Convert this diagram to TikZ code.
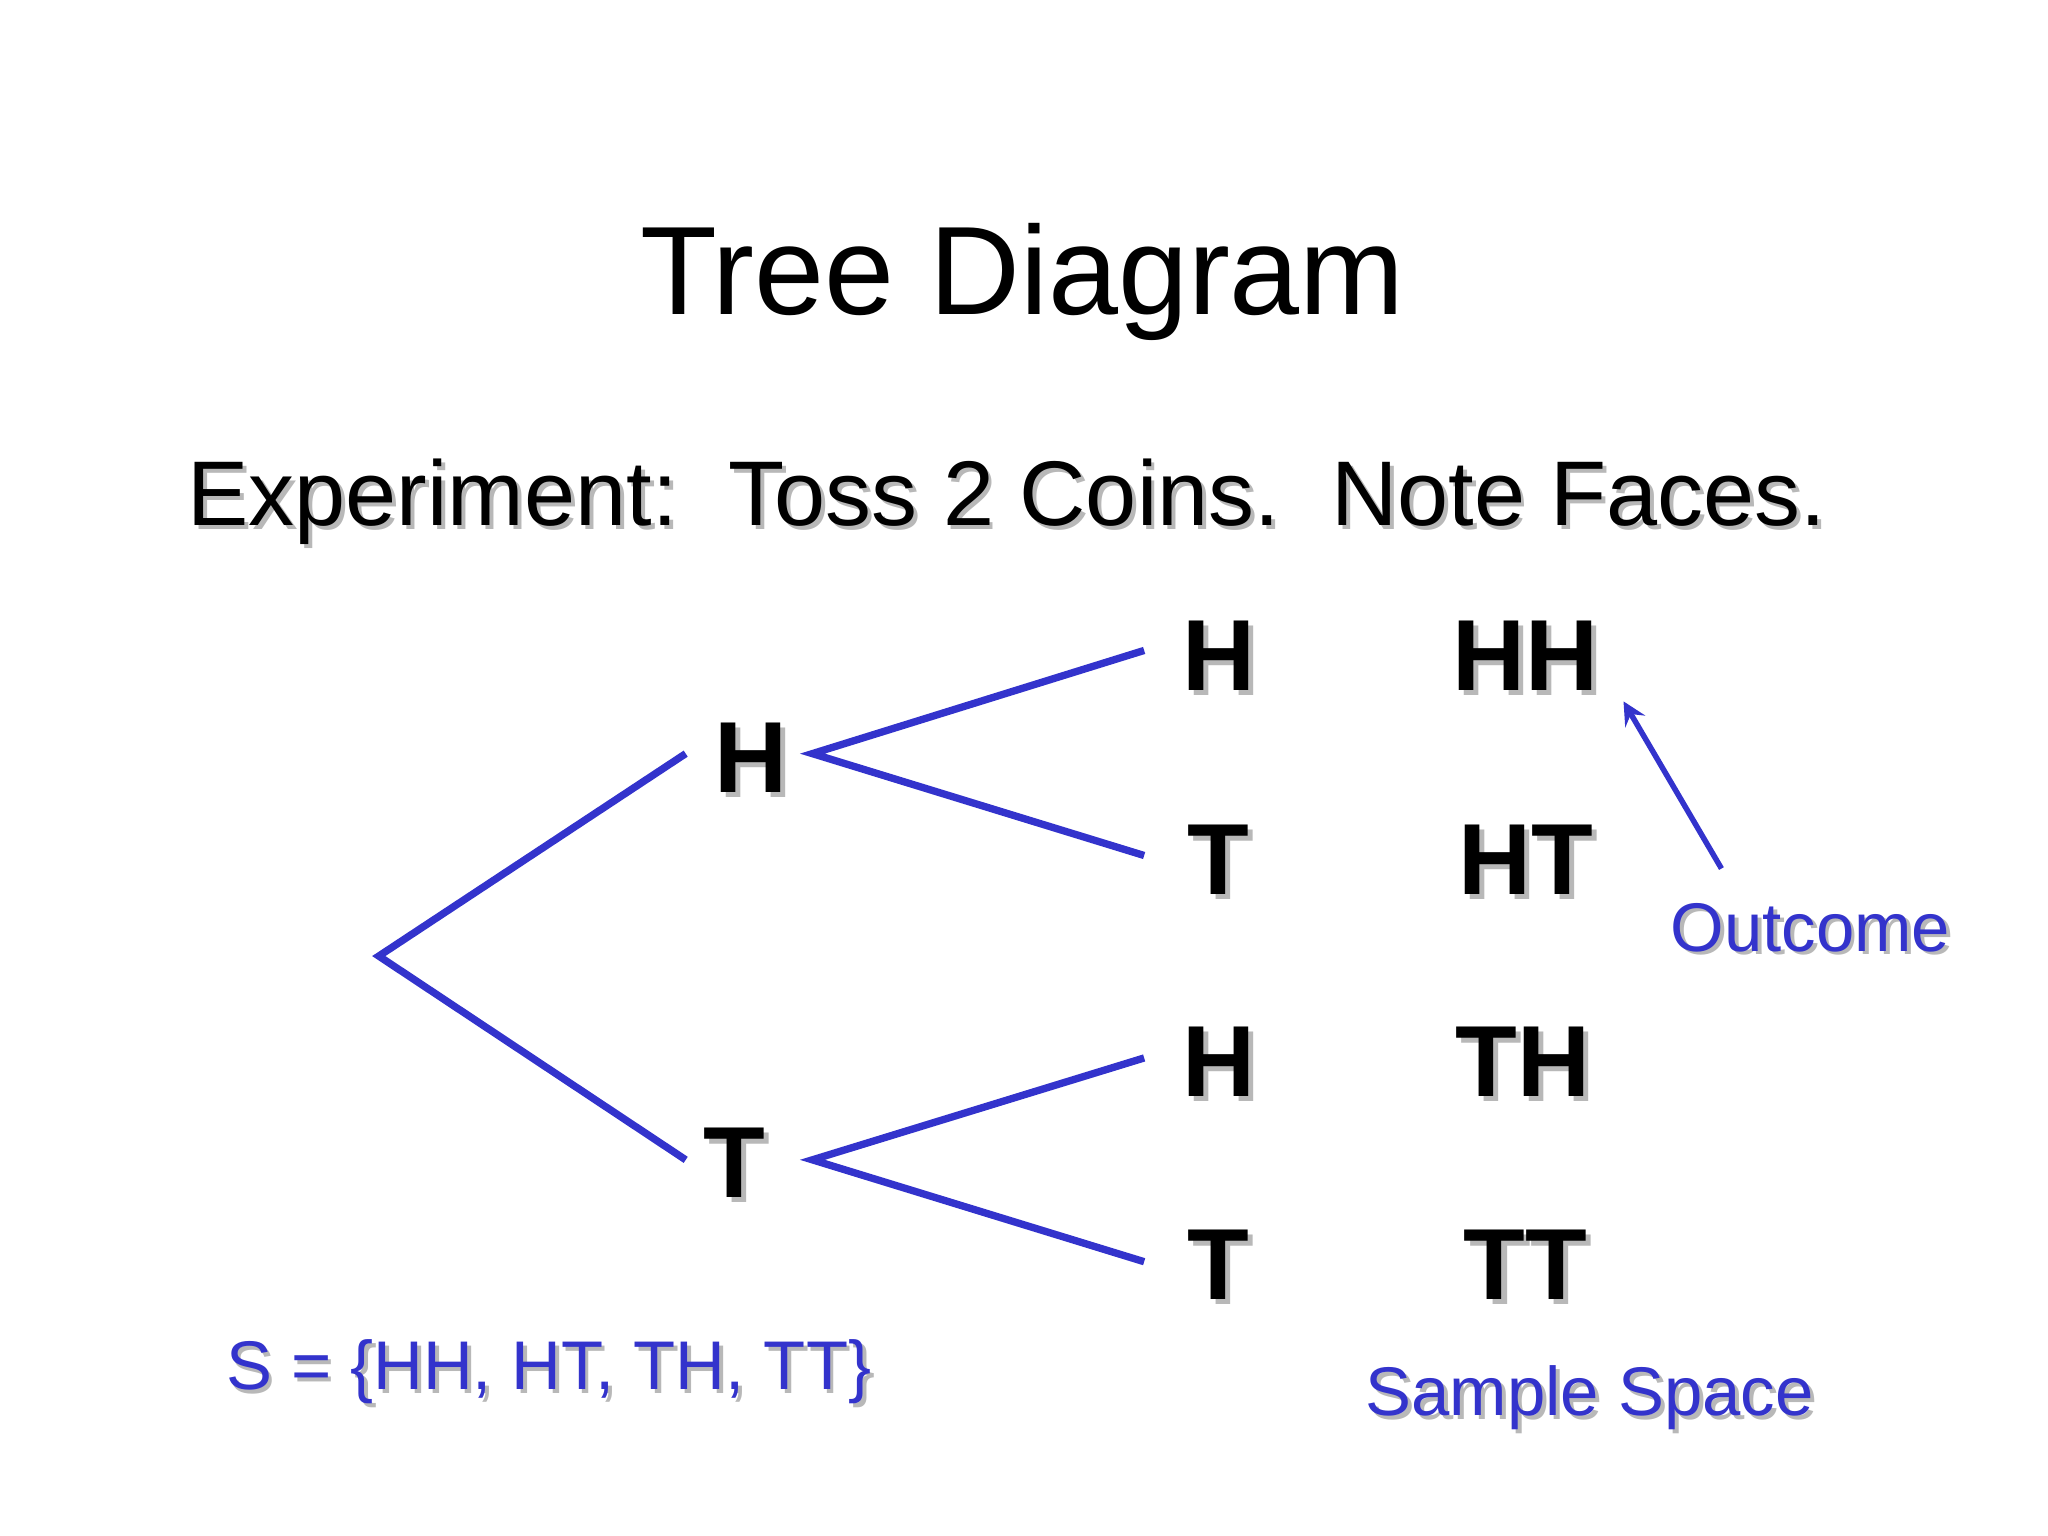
\documentclass[tikz,border=0pt]{standalone}
\usepackage{fontspec}
\setmainfont{Liberation Sans}
\definecolor{tblue}{HTML}{3333CC}
\definecolor{shad}{HTML}{B8B8B8}
\begin{document}
\begin{tikzpicture}[x=0.01cm,y=-0.01cm,
  br/.style={draw=tblue,line width=1.6pt},
  big/.style={font=\fontsize{22}{26}\selectfont\bfseries},
  lbl/.style={font=\fontsize{15}{18}\selectfont,text=tblue},
  sh/.style={text=shad}]
\useasboundingbox (0,0) rectangle (1568,1176);
\node[font=\fontsize{27.4}{33}\selectfont] (title) at (783,216) {Tree Diagram};
\node[font=\fontsize{20}{24}\selectfont,sh] at (774,387) {Experiment:\ \ Toss 2 Coins.\ \ Note Faces.};
\node[font=\fontsize{20}{24}\selectfont] (sub) at (771,384) {Experiment:\ \ Toss 2 Coins.\ \ Note Faces.};
\coordinate (r) at (290,732);
\coordinate (a1) at (525,577); \coordinate (a2) at (525,888);
\coordinate (b1) at (622,577); \coordinate (b2) at (622,888);
\coordinate (c1) at (876,498); \coordinate (c2) at (876,655);
\coordinate (c3) at (876,810); \coordinate (c4) at (876,966);
\draw[br] (a1) -- (r) -- (a2);
\draw[br] (c1) -- (b1) -- (c2);
\draw[br] (c3) -- (b2) -- (c4);
\foreach \t/\x/\y/\n in {H/575/580/h1,T/562/890/t1,H/933/502/l1,T/933/658/l2,H/933/813/l3,T/933/968/l4,HH/1168/502/o1,HT/1168/658/o2,TH/1166/813/o3,TT/1168/968/o4}{
  \node[big,sh] at (\x+4,\y+4) {\t};
  \node[big] (\n) at (\x,\y) {\t};
}
\coordinate (ae) at (1243,537);
\node[lbl,sh] at (1389,713) {Outcome};
\node[lbl] (out) at (1386,710) {Outcome};
\draw[tblue,line width=1.2pt,-stealth] (1318,665) -- (ae);
\node[lbl,sh] at (423,1053) {S = \{HH, HT, TH, TT\}};
\node[lbl] (S) at (420,1050) {S = \{HH, HT, TH, TT\}};
\node[lbl,sh] at (1220,1073) {Sample Space};
\node[lbl] (ss) at (1217,1070) {Sample Space};
\end{tikzpicture}
\end{document}
